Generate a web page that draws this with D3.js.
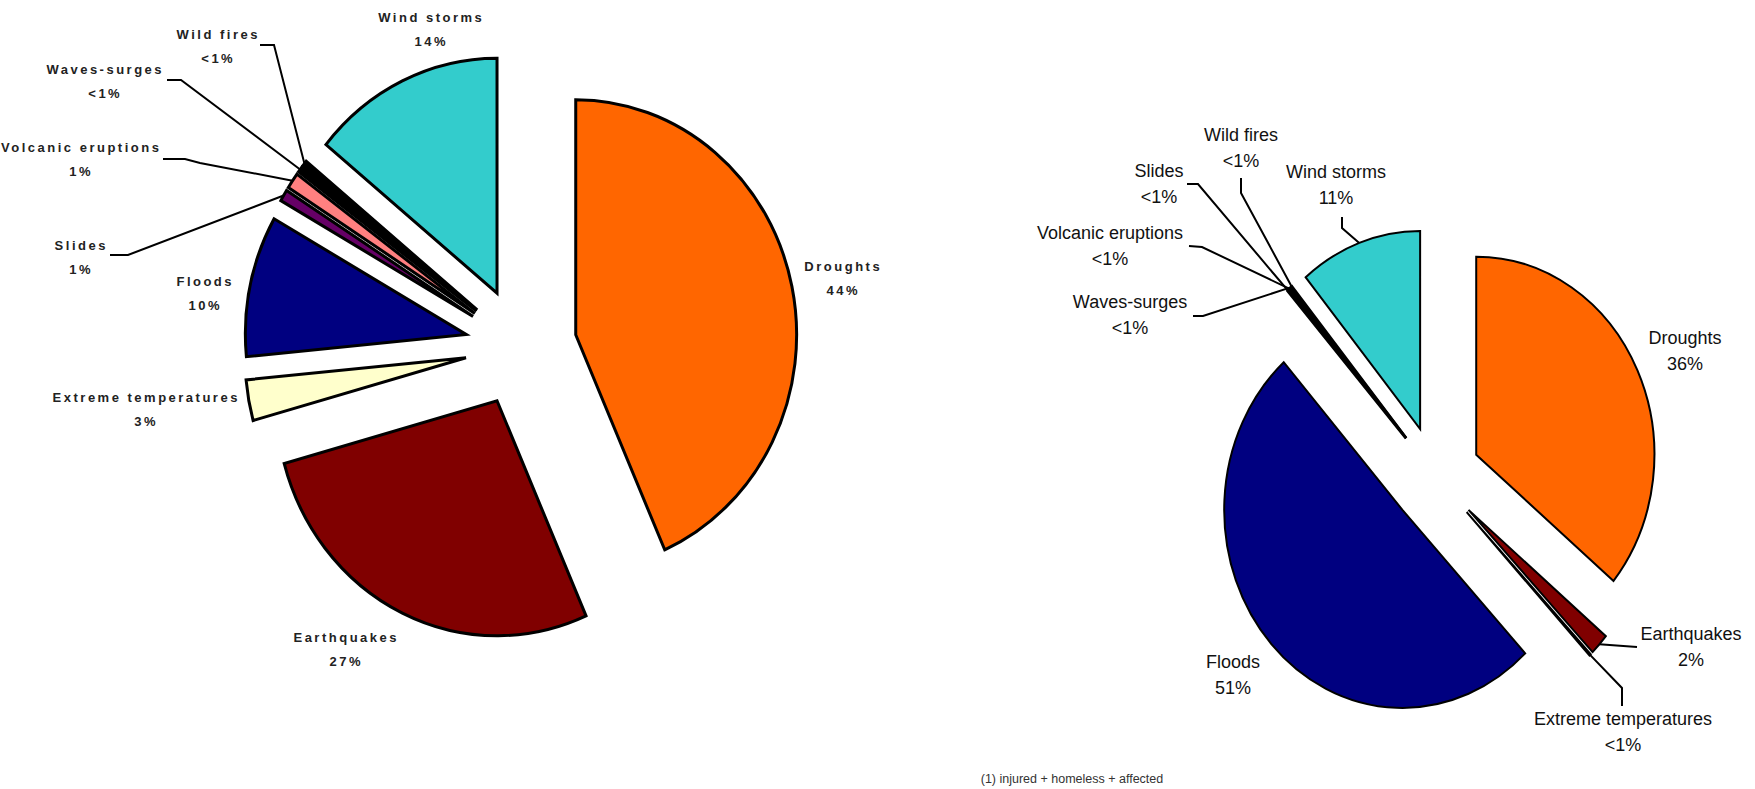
<html>
  <script src="https://d3js.org/d3.v7.min.js"></script>
  <body style="margin:0;background:#fff">
    <script>
      // categories and shares (%)
      let categories = ["Droughts", "Earthquakes", "Extreme temperatures", "Floods", "Slides",
                        "Volcanic eruptions", "Waves-surges", "Wild fires", "Wind storms"];
      let leftValues  = [43.4, 27.3, 2.8, 9.7, 0.8, 1.1, 0.4, 0.4, 14.1];
      let rightValues = [36.0, 1.75, 0.15, 50.5, 0.15, 0.15, 0.1, 0.1, 11.1];
      let leftPct  = ["44%", "27%", "3%", "10%", "1%", "1%", "<1%", "<1%", "14%"];
      let rightPct = ["36%", "2%", "<1%", "51%", "<1%", "<1%", "<1%", "<1%", "11%"];
      let footnote = "(1) injured + homeless + affected";

      let colors = ["#FF6600", "#800000", "#FFFFCC", "#000080", "#660066",
                    "#FF8080", "#000000", "#000000", "#33CCCC"];

      let width = 1755, height = 789;
      let svg = d3.select("body").append("svg")
                  .attr("width", width)
                  .attr("height", height);

      // label layout: x, y of first line, leader points on the label side
      let leftLayout = {
        "Droughts": {x: 842, y: 266},
        "Earthquakes": {x: 345, y: 637},
        "Extreme temperatures": {x: 145, y: 397},
        "Floods": {x: 204, y: 281},
        "Slides": {x: 80, y: 245, leader: [[110, 255], [128, 255]]},
        "Volcanic eruptions": {x: 80, y: 147, leader: [[163, 159], [185, 159], [200, 163]]},
        "Waves-surges": {x: 104, y: 69, leader: [[167, 80], [181, 80]]},
        "Wild fires": {x: 217, y: 34, leader: [[260, 45], [274, 45]]},
        "Wind storms": {x: 430, y: 17}
      };
      let rightLayout = {
        "Droughts": {x: 1685, y: 338},
        "Earthquakes": {x: 1691, y: 634, leader: [[1637, 647]]},
        "Extreme temperatures": {x: 1623, y: 719, leader: [[1622, 706], [1622, 688]]},
        "Floods": {x: 1233, y: 662},
        "Slides": {x: 1159, y: 171, leader: [[1187, 184], [1198, 184]]},
        "Volcanic eruptions": {x: 1110, y: 233, leader: [[1189, 246], [1202, 247]]},
        "Waves-surges": {x: 1130, y: 302, leader: [[1193, 316], [1203, 316]]},
        "Wild fires": {x: 1241, y: 135, leader: [[1241, 178], [1241, 193]]},
        "Wind storms": {x: 1336, y: 172, leader: [[1342, 217], [1342, 228]]}
      };

      function drawPie(values, pcts, layout, opt) {
        let data = categories.map((c, i) => ({name: c, value: values[i], pct: pcts[i], color: colors[i]}));
        let arcs = d3.pie().sort(null).value(d => d.value)(data);
        let arc = d3.arc().innerRadius(0).outerRadius(opt.r);
        let mid = d => (d.startAngle + d.endAngle) / 2;

        let g = svg.append("g")
                   .attr("transform", `translate(${opt.cx},${opt.cy}) scale(${opt.k},1)`);
        g.selectAll("path").data(arcs).join("path")
         .attr("transform", d => `translate(${opt.explode * Math.sin(mid(d))},${-opt.explode * Math.cos(mid(d))})`)
         .attr("d", arc)
         .attr("fill", d => d.data.color)
         .attr("stroke", "#000")
         .attr("stroke-width", opt.stroke)
         .attr("stroke-linejoin", "miter")
         .attr("vector-effect", "non-scaling-stroke");

        // leader lines from the outer edge of the slice to the label
        arcs.forEach(d => {
          let lay = layout[d.data.name];
          if (lay.leader) {
            let rr = opt.explode + opt.r;
            let p = [opt.cx + opt.k * rr * Math.sin(mid(d)), opt.cy - rr * Math.cos(mid(d))];
            let pts = lay.leader.concat([p]);
            svg.append("path")
               .attr("d", d3.line()(pts))
               .attr("fill", "none")
               .attr("stroke", "#000")
               .attr("stroke-width", opt.leaderWidth);
          }
          let t = svg.append("text")
                     .attr("text-anchor", "middle")
                     .attr("font-family", "'Liberation Sans', Arial, sans-serif")
                     .attr("font-size", opt.fontSize)
                     .attr("font-weight", opt.fontWeight)
                     .attr("letter-spacing", opt.spacing)
                     .attr("fill", opt.textColor);
          t.append("tspan").attr("x", lay.x + opt.spacing / 2).attr("y", lay.y).attr("dy", "0.35em").text(d.data.name);
          t.append("tspan").attr("x", lay.x + opt.spacing / 2).attr("y", lay.y + opt.lineGap).attr("dy", "0.35em").text(d.data.pct);
        });
      }

      drawPie(leftValues, leftPct, leftLayout, {
        cx: 521, cy: 347, r: 235, k: 0.94, explode: 59.5, stroke: 3,
        leaderWidth: 2, fontSize: 13, fontWeight: "bold", spacing: 2.5, lineGap: 24.5, textColor: "#222"
      });
      drawPie(rightValues, rightPct, rightLayout, {
        cx: 1435.5, cy: 476, r: 198, k: 0.9, explode: 50, stroke: 2,
        leaderWidth: 2, fontSize: 18, fontWeight: "normal", spacing: 0, lineGap: 26, textColor: "#111"
      });

      svg.append("text")
         .attr("x", 1072).attr("y", 779).attr("dy", "0.35em")
         .attr("text-anchor", "middle")
         .attr("font-family", "'Liberation Sans', Arial, sans-serif")
         .attr("font-size", 12.5)
         .attr("fill", "#333")
         .text(footnote);
    </script>
  </body>
</html>
